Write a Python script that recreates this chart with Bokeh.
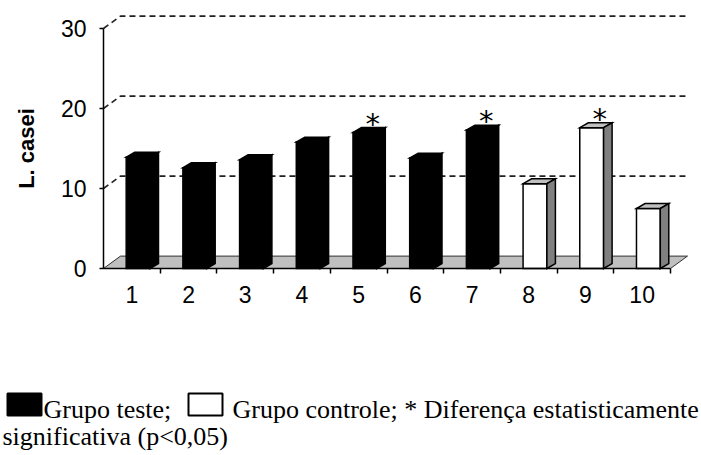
import numpy as np
from bokeh.plotting import figure
from bokeh.models import Range1d, FixedTicker, LinearAxis
from bokeh.core.properties import value
from bokeh.embed import file_html
from bokeh.resources import INLINE

# ---------------- data ----------------
categories = ["1", "2", "3", "4", "5", "6", "7", "8", "9", "10"]
l_casei = [13.9, 12.6, 13.6, 15.8, 17.0, 13.8, 17.3, 10.6, 17.6, 7.5]
groups = ["teste"] * 7 + ["controle"] * 3
significant = [False, False, False, False, True, False, True, False, True, False]
y_ticks = [0, 10, 20, 30]
y_label = "L. casei"
legend_texts = ["Grupo teste;", "Grupo controle; * Diferença estatisticamente",
                "significativa (p<0,05)"]

# ---------------- style / layout ----------------
FACES = {"teste": ("black", "black", "black"),          # front, top, side
         "controle": ("white", "#c0c0c0", "#808080")}
BAR_L, BAR_R = -0.10, 0.32     # front face extent around category centre
BDX, BDY = 0.15, 0.62          # bar depth offset
WDX, WDY = 0.30, 1.55          # back wall offset
W, H = 701, 455
PX_CAT, PX_UNIT = 56.7, 8.0    # pixels per category / per value unit
AX_X_PX, AX_Y_PX = 103, 268    # pixel position of the axes crossing

xs = np.arange(1, len(categories) + 1)
x_lo, x_hi = xs[0] - 0.5, xs[-1] + 0.5
x_start = x_lo - AX_X_PX / PX_CAT
y_end = AX_Y_PX / PX_UNIT

p = figure(width=W, height=H, title=None,
           x_range=Range1d(x_start, x_start + W / PX_CAT),
           y_range=Range1d(y_end - H / PX_UNIT, y_end),
           x_axis_type=None, y_axis_type=None,
           output_backend="svg", toolbar_location=None, min_border=0)
p.grid.visible = False
p.outline_line_color = None
p.background_fill_color = "white"
p.border_fill_color = "white"
# pixel space for the caption below the chart
p.extra_x_ranges = {"px": Range1d(0, W)}
p.extra_y_ranges = {"px": Range1d(H, 0)}

# y axis
yaxis = LinearAxis(ticker=FixedTicker(ticks=y_ticks), bounds=(y_ticks[0], y_ticks[-1]),
                   axis_label=y_label, fixed_location=x_lo)
yaxis.axis_line_color = "black"
yaxis.axis_line_width = 1.5
yaxis.major_tick_out = 4
yaxis.major_tick_in = 0
yaxis.major_tick_line_width = 1.5
yaxis.minor_tick_out = 0
yaxis.minor_tick_in = 0
yaxis.major_label_standoff = 13
yaxis.major_label_text_font = "Liberation Sans"
yaxis.major_label_text_font_size = "23px"
yaxis.major_label_text_color = "black"
yaxis.axis_label_text_font = "Liberation Sans"
yaxis.axis_label_text_font_size = "22px"
yaxis.axis_label_text_font_style = "bold"
yaxis.axis_label_text_color = "black"
yaxis.axis_label_standoff = 19
p.add_layout(yaxis, "left")

# x axis: labels at category centres, tick marks between categories
xaxis = LinearAxis(ticker=FixedTicker(ticks=list(xs), minor_ticks=list(xs + 0.5)),
                   bounds=(x_lo, x_hi), fixed_location=0,
                   major_label_overrides={int(x): c for x, c in zip(xs, categories)})
xaxis.axis_line_color = "black"
xaxis.axis_line_width = 1.5
xaxis.major_tick_out = 0
xaxis.major_tick_in = 0
xaxis.minor_tick_out = 5
xaxis.minor_tick_in = 0
xaxis.minor_tick_line_color = "black"
xaxis.minor_tick_line_width = 1.5
xaxis.major_label_standoff = 12
xaxis.major_label_text_font = "Liberation Sans"
xaxis.major_label_text_font_size = "23px"
xaxis.major_label_text_color = "black"
p.add_layout(xaxis, "below")

# back-wall dashed gridlines
gx, gy = [], []
for v in y_ticks[1:]:
    gx.append([x_lo, x_lo + WDX, x_hi + WDX])
    gy.append([v, v + WDY, v + WDY])
p.multi_line(gx, gy, line_color="#202020", line_width=1.6, line_dash="6 4")

# floor
p.patch([x_lo, x_hi, x_hi + WDX, x_lo + WDX], [0, 0, WDY, WDY],
        fill_color="#c0c0c0", line_color="#303030", line_width=1)

# 3-D bars
px, py, pc = [], [], []
for x, v, g in zip(xs, l_casei, groups):
    front, top, side = FACES[g]
    l, r = x + BAR_L, x + BAR_R
    px.append([l, r, r, l]); py.append([0, 0, v, v]); pc.append(front)
    px.append([l, r, r + BDX, l + BDX]); py.append([v, v, v + BDY, v + BDY]); pc.append(top)
    px.append([r, r + BDX, r + BDX, r]); py.append([0, BDY, v + BDY, v]); pc.append(side)
p.patches(px, py, fill_color=pc, line_color="black", line_width=1.5, line_join="miter")

# significance asterisks
sx = [x + 0.25 for x, s in zip(xs, significant) if s]
sy = [v + BDY + 0.5 for v, s in zip(l_casei, significant) if s]
p.text(sx, sy, text=["*"] * len(sx), text_font=value("DejaVu Sans"),
       text_font_size="29px", text_align="center", text_baseline="alphabetic",
       text_color="black")

# ---------------- caption (pixel space) ----------------
p.quad(left=[7, 188], right=[41, 222], top=[393, 393], bottom=[415, 415],
       fill_color=["black", "white"], line_color="black", line_width=2,
       x_range_name="px", y_range_name="px")
p.text(x=[43, 232, 2], y=[409, 409, 436], text=legend_texts,
       text_font=value("Liberation Serif"), text_font_size="26px",
       text_align="left", text_baseline="alphabetic", text_color="black",
       x_range_name="px", y_range_name="px")

open("out.html", "w").write(file_html(p, INLINE))
